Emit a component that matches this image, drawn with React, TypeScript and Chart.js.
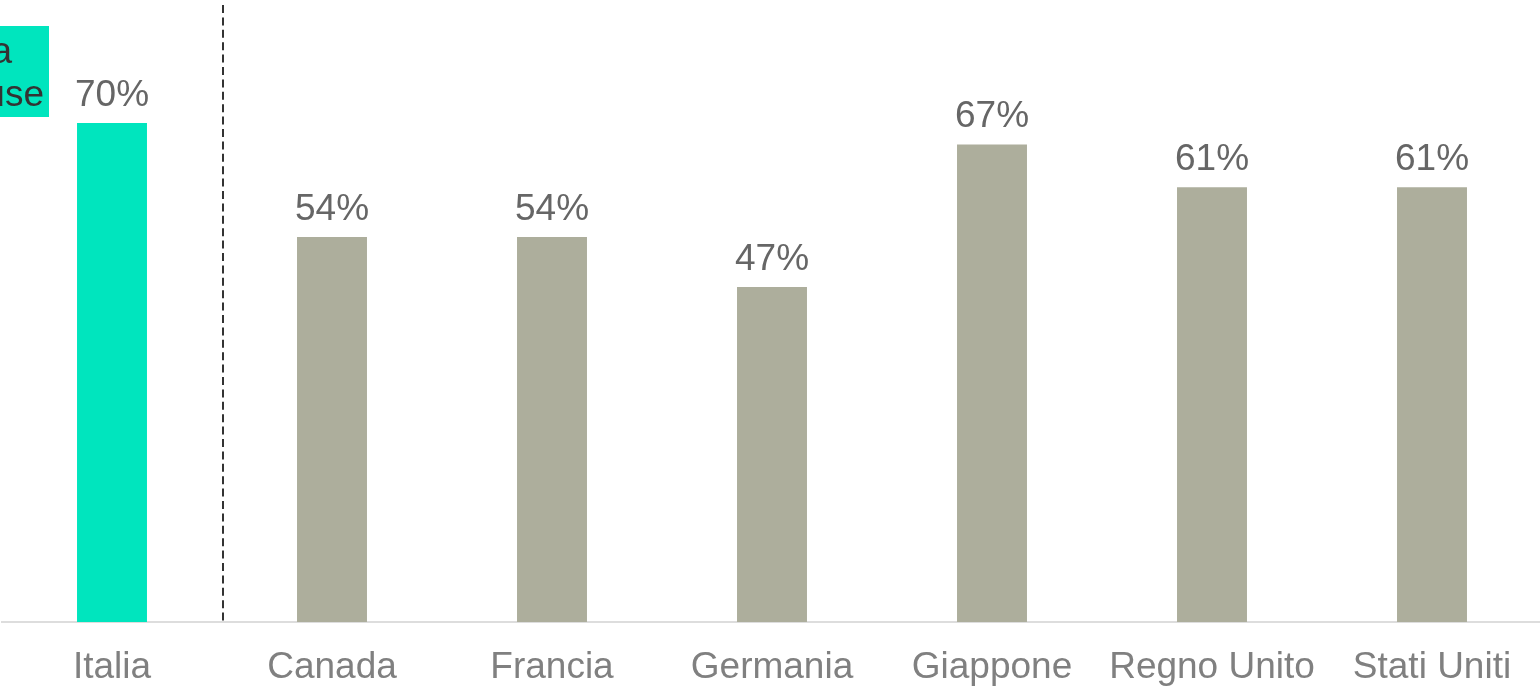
import React, { useEffect, useRef } from "react";
import { Chart, registerables } from "chart.js";

Chart.register(...registerables);

const categories = ["Italia", "Canada", "Francia", "Germania", "Giappone", "Regno Unito", "Stati Uniti"];
const values = [70, 54, 54, 47, 67, 61, 61];
const barColors = ["#00E5BE", "#ADAE9C", "#ADAE9C", "#ADAE9C", "#ADAE9C", "#ADAE9C", "#ADAE9C"];
const boxLines = ["Italia", "Richiuse"];

const FONT = "Arial, 'Liberation Sans', Helvetica, sans-serif";

const labelsPlugin = {
  id: "valueLabels",
  afterDatasetsDraw(chart: any) {
    const { ctx, chartArea } = chart;
    const meta = chart.getDatasetMeta(0);
    ctx.save();
    ctx.font = `37px ${FONT}`;
    ctx.fillStyle = "#666666";
    ctx.textAlign = "center";
    ctx.textBaseline = "alphabetic";
    meta.data.forEach((bar: any, i: number) => {
      ctx.fillText(values[i] + "%", bar.x, bar.y - 17);
    });
    // dashed separator between first and second category
    const xs = chart.scales.x;
    const sepX = (xs.getPixelForValue(0) + xs.getPixelForValue(1)) / 2 + 1;
    ctx.strokeStyle = "#333333";
    ctx.lineWidth = 2;
    ctx.setLineDash([8, 4.4]);
    ctx.beginPath();
    ctx.moveTo(sepX, chartArea.top + 1);
    ctx.lineTo(sepX, chartArea.bottom);
    ctx.stroke();
    ctx.setLineDash([]);
    // annotation box (clipped at left edge)
    ctx.fillStyle = "#00E5BE";
    ctx.fillRect(0, 26, 49, 91);
    ctx.fillStyle = "#333333";
    ctx.textAlign = "center";
    const w2 = ctx.measureText(boxLines[1]).width;
    const cx = 44 - w2 / 2;
    ctx.fillText(boxLines[0], cx, 63);
    ctx.fillText(boxLines[1], cx, 106);
    ctx.restore();
  },
};

export default function App() {
  const ref = useRef<HTMLCanvasElement | null>(null);
  useEffect(() => {
    if (!ref.current) return;
    const chart = new Chart(ref.current, {
      type: "bar",
      data: {
        labels: categories,
        datasets: [
          {
            data: values,
            backgroundColor: barColors,
            barPercentage: 0.318,
            categoryPercentage: 1,
          },
        ],
      },
      options: {
        animation: false,
        responsive: false,
        maintainAspectRatio: false,
        layout: { padding: { left: 2, right: 2, top: 4, bottom: 0 } },
        plugins: { legend: { display: false }, tooltip: { enabled: false } },
        scales: {
          x: {
            grid: { display: false },
            border: { display: true, color: "#DDDDDD", width: 2 },
            ticks: {
              color: "#808080",
              font: { size: 37, family: FONT },
              padding: 16,
              maxRotation: 0,
              autoSkip: false,
            },
            afterFit(scale: any) {
              scale.height = 66;
            },
          },
          y: {
            display: false,
            min: 0,
            max: 86.7,
          },
        },
      },
      plugins: [labelsPlugin],
    });
    return () => chart.destroy();
  }, []);
  return (
    <div style={{ position: "absolute", left: 0, top: 0, width: 1540, height: 688, overflow: "hidden", background: "#fff" }}>
      <canvas ref={ref} width={1544} height={688} style={{ width: 1544, height: 688, display: "block" }} />
    </div>
  );
}
